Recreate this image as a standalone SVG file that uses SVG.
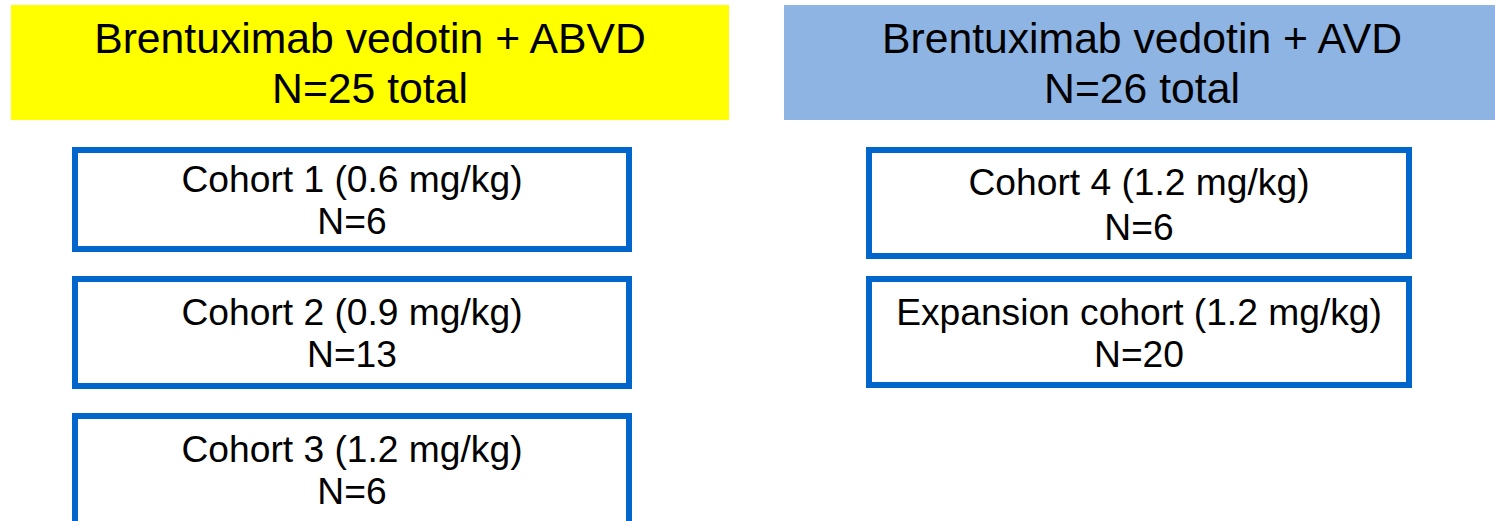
<svg xmlns="http://www.w3.org/2000/svg" width="1495" height="521" viewBox="0 0 1495 521">
<style>
text{font-family:"Liberation Sans",Arial,sans-serif;fill:#000;text-anchor:middle}
.h{font-size:42.7px}
.c{font-size:37.2px}
.box{fill:#fff;stroke:#0066CC;stroke-width:6}
</style>
<rect width="1495" height="521" fill="#fff"/>
<g id="header-abvd">
<rect x="11" y="5" width="718" height="115" fill="#FFFF00"/>
<text class="h" x="370" y="53">Brentuximab vedotin + ABVD</text>
<text class="h" x="370" y="103">N=25 total</text>
</g>
<g id="header-avd">
<rect x="784" y="5" width="711" height="115" fill="#8EB4E3"/>
<text class="h" x="1142" y="53">Brentuximab vedotin + AVD</text>
<text class="h" x="1142" y="103">N=26 total</text>
</g>
<g id="cohort1">
<rect class="box" x="75" y="150" width="554" height="99"/>
<text class="c" x="352" y="192">Cohort 1 (0.6 mg/kg)</text>
<text class="c" x="352" y="234">N=6</text>
</g>
<g id="cohort2">
<rect class="box" x="75" y="279" width="554" height="107"/>
<text class="c" x="352" y="325">Cohort 2 (0.9 mg/kg)</text>
<text class="c" x="352" y="367">N=13</text>
</g>
<g id="cohort3">
<rect class="box" x="75" y="416" width="554" height="110"/>
<text class="c" x="352" y="462">Cohort 3 (1.2 mg/kg)</text>
<text class="c" x="352" y="504">N=6</text>
</g>
<g id="cohort4">
<rect class="box" x="869" y="150" width="540" height="106"/>
<text class="c" x="1139" y="195">Cohort 4 (1.2 mg/kg)</text>
<text class="c" x="1139" y="240">N=6</text>
</g>
<g id="expansion">
<rect class="box" x="869" y="279" width="540" height="106"/>
<text class="c" x="1139" y="325">Expansion cohort (1.2 mg/kg)</text>
<text class="c" x="1139" y="367">N=20</text>
</g>
<g id="connectors"/>
</svg>
